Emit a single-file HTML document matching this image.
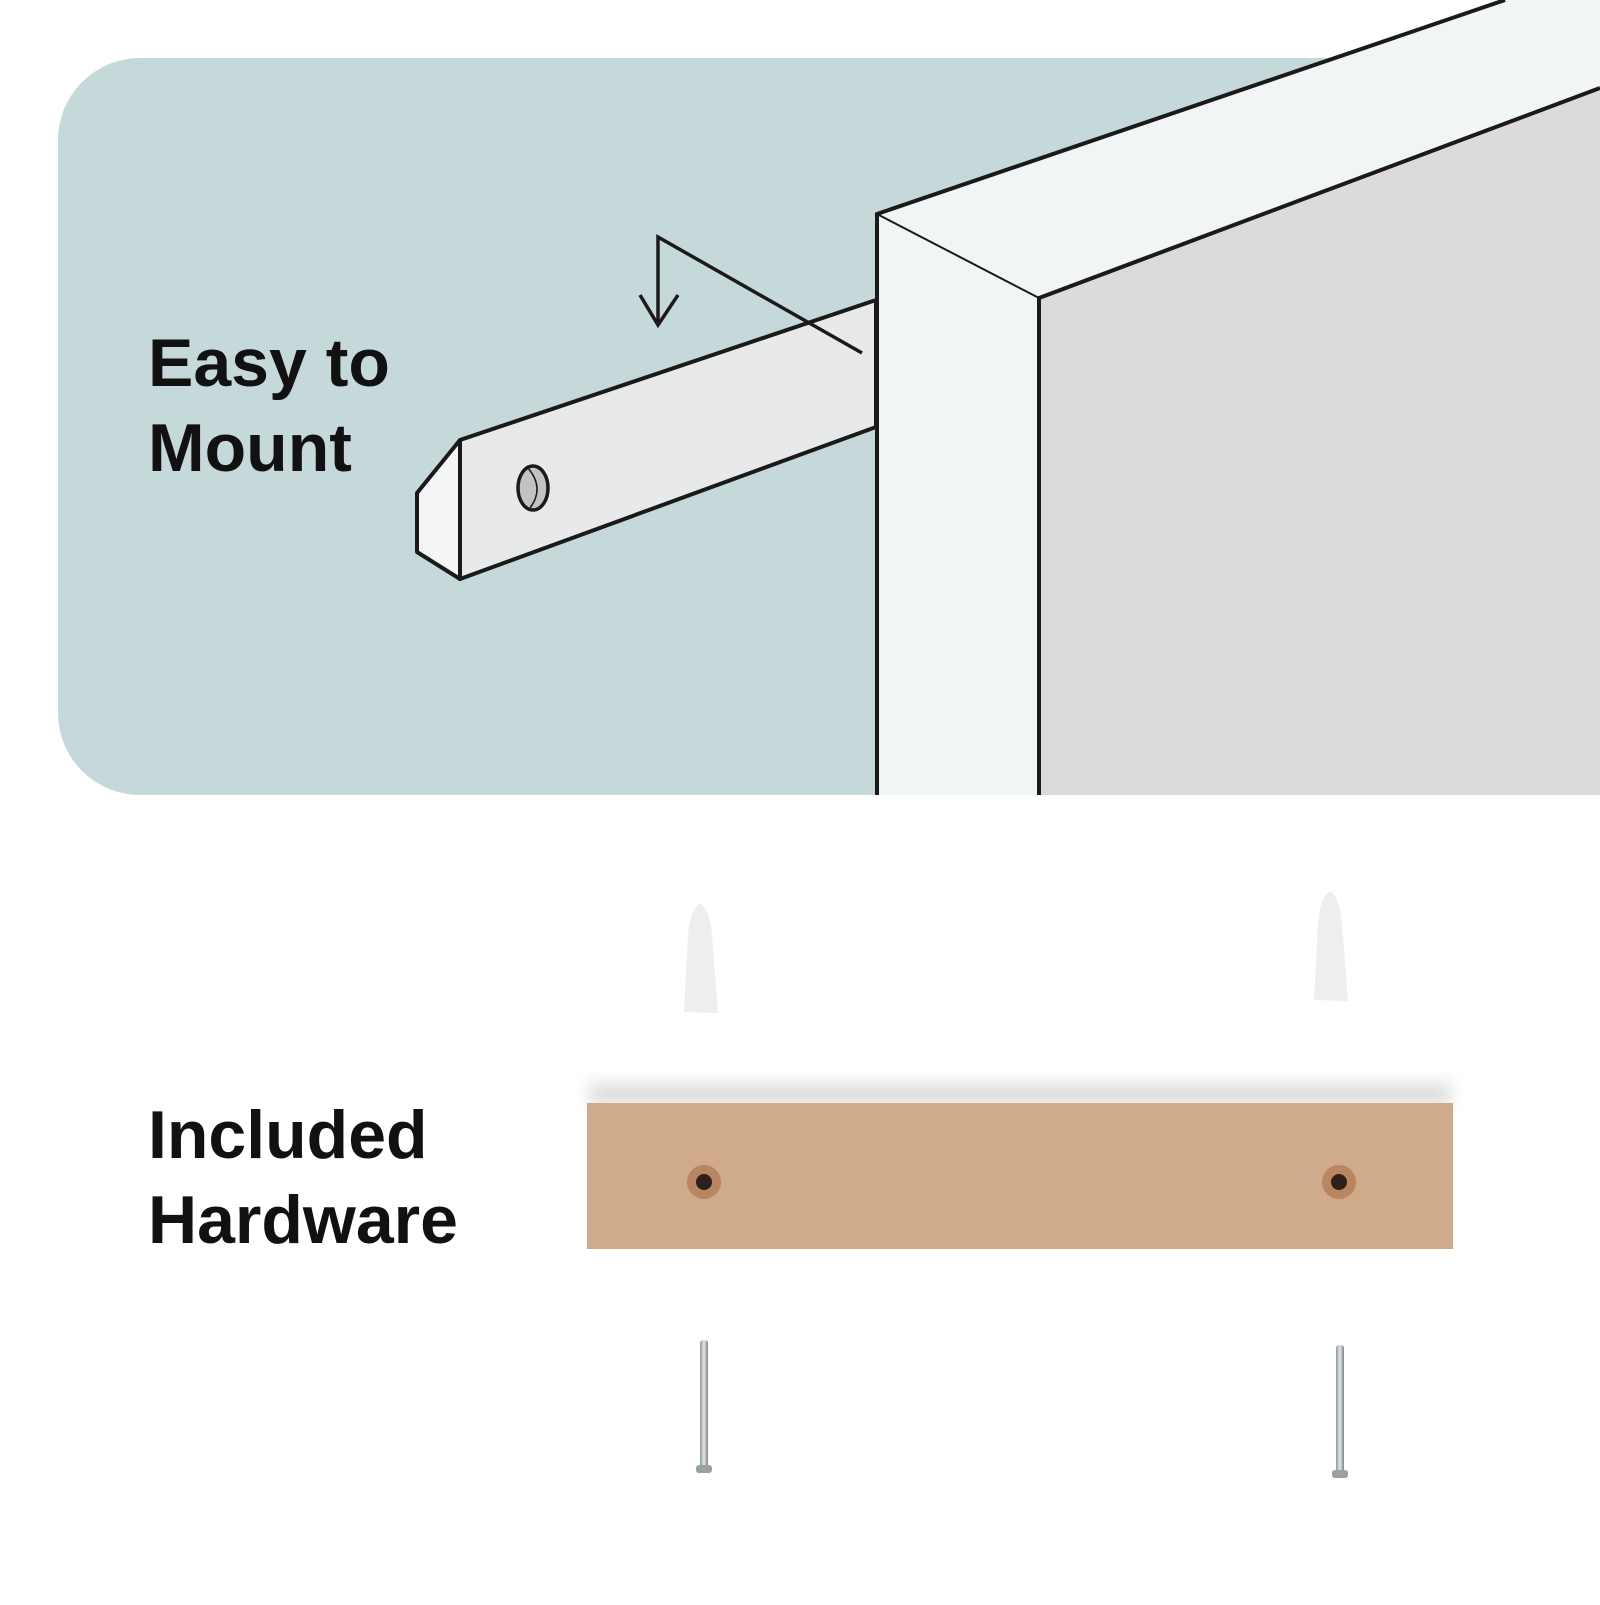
<!DOCTYPE html>
<html><head><meta charset="utf-8"><style>
html,body{margin:0;padding:0;background:#fff;}
.t{font-family:"Liberation Sans",sans-serif;font-weight:bold;font-size:68px;fill:#111;}
</style></head><body>
<svg width="1600" height="1600" viewBox="0 0 1600 1600" xmlns="http://www.w3.org/2000/svg">
<defs>
<filter id="sh" x="-10%" y="-50%" width="120%" height="200%"><feGaussianBlur stdDeviation="8"/></filter>
<linearGradient id="scr" x1="0" x2="1"><stop offset="0" stop-color="#8e959a"/><stop offset="0.5" stop-color="#e4e8ea"/><stop offset="1" stop-color="#7d8388"/></linearGradient>
</defs>
<rect width="1600" height="1600" fill="#fff"/>
<path d="M140 58 H1600 V795 H140 A82 82 0 0 1 58 713 V140 A82 82 0 0 1 140 58 Z" fill="#c5d9da"/>
<!-- bracket -->
<polygon points="460,440 876,300 876,427 460,579" fill="#e8e9ea" stroke="#1a1a1a" stroke-width="4" stroke-linejoin="round"/>
<polygon points="460,440 417,493 417,552 460,579" fill="#f3f5f6" stroke="#1a1a1a" stroke-width="4" stroke-linejoin="round"/>
<ellipse cx="533" cy="488" rx="15" ry="22" fill="#c2c2c4" stroke="#1a1a1a" stroke-width="3.5"/>
<path d="M528 468 Q545 488 530 508" fill="none" stroke="#1a1a1a" stroke-width="1.5"/>
<!-- arrow -->
<polyline points="658,325 658,237 862,353" fill="none" stroke="#1a1a1a" stroke-width="3.5"/>
<polyline points="640,295 658,325 678,295" fill="none" stroke="#1a1a1a" stroke-width="3.5"/>
<!-- frame -->
<polygon points="877,214 1505,0 1600,0 1600,88 1039,298" fill="#f2f5f5"/>
<polygon points="877,214 1039,298 1039,795 877,795" fill="#f2f5f5"/>
<polygon points="1039,298 1600,88 1600,795 1039,795" fill="#dcdadb"/>
<polyline points="877,795 877,214 1505,0" fill="none" stroke="#1a1a1a" stroke-width="4"/>
<polyline points="1039,795 1039,298 1600,88" fill="none" stroke="#1a1a1a" stroke-width="4"/>
<line x1="877" y1="214" x2="1039" y2="298" stroke="#1a1a1a" stroke-width="2"/>
<rect x="0" y="795" width="1600" height="805" fill="#fff"/>
<text class="t" x="148" y="386">Easy to</text>
<text class="t" x="148" y="471">Mount</text>
<text class="t" x="148" y="1158">Included</text>
<text class="t" x="148" y="1243">Hardware</text>
<!-- wood -->
<rect x="590" y="1083" width="860" height="22" fill="#9a9a9a" opacity="0.35" filter="url(#sh)"/>
<rect x="587" y="1103" width="866" height="146" fill="#cfaa8b"/>
<circle cx="704" cy="1182" r="17" fill="#b88660"/>
<circle cx="704" cy="1182" r="8" fill="#2e2018"/>
<circle cx="1339" cy="1182" r="17" fill="#b88660"/>
<circle cx="1339" cy="1182" r="8" fill="#2e2018"/>
<!-- plugs -->
<path d="M700 903 Q690 910 688 935 L684 1012 L718 1013 L712 935 Q710 910 700 903Z" fill="#eeeeee"/>
<path d="M1330 891 Q1320 898 1318 923 L1314 1000 L1348 1001 L1342 923 Q1340 898 1330 891Z" fill="#eeeeee"/>
<!-- screws -->
<rect x="700" y="1340" width="8" height="130" rx="3" fill="url(#scr)"/>
<rect x="696" y="1465" width="16" height="8" rx="3" fill="#9aa0a4"/>
<rect x="1336" y="1345" width="8" height="130" rx="3" fill="url(#scr)"/>
<rect x="1332" y="1470" width="16" height="8" rx="3" fill="#9aa0a4"/>
</svg>
</body></html>
